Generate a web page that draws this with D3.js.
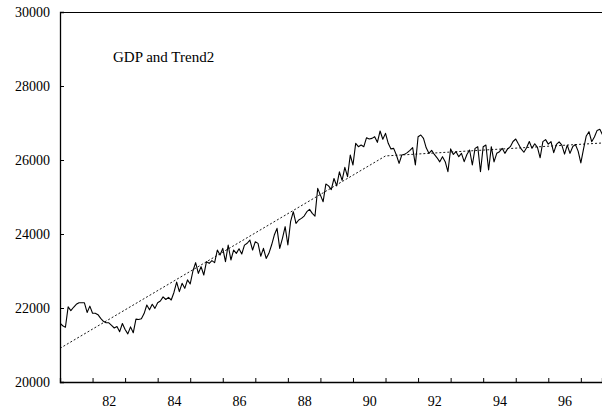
<!DOCTYPE html>
<html><head><meta charset="utf-8">
<script src="https://cdn.jsdelivr.net/npm/d3@7"></script>
<style>body{margin:0;background:#fff}svg{display:block}text{font-family:"Liberation Serif","Times New Roman",serif;fill:#000}</style>
</head><body><svg id="c" width="602" height="417"></svg>
<script>
// Monthly GDP, starting 1981M1
const startYear = 1981;
const gdp = [
21590,21520,21480,22030,21930,22020,22100,22140,22140,22140,
21880,22050,21860,21860,21820,21720,21640,21600,21600,21530,
21460,21500,21360,21580,21420,21300,21490,21330,21700,21690,
21710,21850,22080,21950,22100,21990,22144,22190,22300,22230,
22288,22216,22420,22700,22441,22666,22531,22760,22650,23000,
23225,22936,23117,22891,23252,23207,23279,23225,23567,23432,
23612,23252,23702,23297,23567,23477,23600,23459,23700,23750,
23837,23567,23792,23747,23400,23612,23341,23477,23702,23972,
24152,23612,23882,24198,23702,24332,24603,24287,24378,24422,
24485,24603,24666,24558,24485,25233,25050,24873,25350,25300,
25200,25500,25300,25680,25450,25800,25550,26135,25864,26450,
26360,26405,26360,26603,26567,26585,26630,26477,26784,26560,
26720,26450,26300,26315,26135,25910,26135,26153,26200,26260,
26333,25864,26630,26675,26585,26330,26180,26260,26150,26060,
25950,26090,25955,25684,26300,26150,26225,26090,26180,25955,
26150,26270,25865,26315,26360,25684,26360,26405,25730,26360,
25950,26180,26225,26315,26180,26300,26360,26500,26567,26430,
26300,26210,26330,26500,26315,26440,26340,26060,26495,26550,
26430,26495,26200,26420,26490,26400,26160,26400,26180,26360,
26420,26240,25920,26300,26650,26765,26495,26620,26800,26830,
26680
];
// Broken linear trend (Trend2): knots
const trendYears = [1981.0, 1991.0, 1997.667];
const trendValues = [20910, 26110, 26460];

const yTicks = [20000, 22000, 24000, 26000, 28000, 30000];
const xTickYears = [1982,1983,1984,1985,1986,1987,1988,1989,1990,1991,1992,1993,1994,1995,1996,1997];
const xLabelYears = [82, 84, 86, 88, 90, 92, 94, 96];
const titleText = "GDP and Trend2";

const svg = d3.select("#c");
const L = 60, T = 12, R = 602, B = 382;
const x = d3.scaleLinear().domain([1981, 1997.65]).range([L, R]);
const y = d3.scaleLinear().domain([20000, 30000]).range([B, T]);

svg.append("rect").attr("width",602).attr("height",417).attr("fill","#fff");
svg.append("defs").append("clipPath").attr("id","clip")
  .append("rect").attr("x",L).attr("y",T).attr("width",R-L).attr("height",B-T);

// trend (dotted)
const trendPts = trendYears.map((t,i)=>[t, trendValues[i]]);
svg.append("path").datum(trendPts)
  .attr("clip-path","url(#clip)")
  .attr("fill","none").attr("stroke","#000").attr("stroke-width",0.9)
  .attr("stroke-dasharray","2,2")
  .attr("d", d3.line().x(d=>x(d[0])).y(d=>y(d[1])));

// GDP
svg.append("path").datum(gdp)
  .attr("clip-path","url(#clip)")
  .attr("fill","none").attr("stroke","#000").attr("stroke-width",1.1)
  .attr("stroke-linejoin","round")
  .attr("d", d3.line().x((d,i)=>x(startYear + i/12)).y(d=>y(d)));

// frame top
svg.append("line").attr("x1",L).attr("x2",R).attr("y1",T+0.5).attr("y2",T+0.5)
  .attr("stroke","#000").attr("stroke-width",1);

// left axis
const ya = svg.append("g").attr("transform",`translate(${L},0)`)
  .call(d3.axisLeft(y).tickValues(yTicks).tickSize(-4).tickPadding(10).tickFormat(d3.format("d")));
ya.select(".domain").attr("stroke","#000").attr("stroke-width",1.3);
ya.selectAll("text").attr("font-size",14).attr("font-family","Liberation Serif");

// bottom axis ticks
const xa = svg.append("g").attr("transform",`translate(0,${B})`)
  .call(d3.axisBottom(x).tickValues(xTickYears).tickSize(-4).tickFormat(""));
xa.select(".domain").attr("stroke","#000").attr("stroke-width",1.3);
// bottom labels at mid-year
const xl = svg.append("g").attr("transform",`translate(0,${B})`)
  .call(d3.axisBottom(x).tickValues(xLabelYears.map(v=>1900+v+0.5)).tickSize(0).tickPadding(14)
    .tickFormat(d=>String(Math.floor(d)-1900)));
xl.select(".domain").remove();
xl.selectAll("text").attr("font-size",14).attr("font-family","Liberation Serif");

svg.append("text").attr("x",113).attr("y",62).attr("font-size",15).text(titleText);
</script></body></html>
